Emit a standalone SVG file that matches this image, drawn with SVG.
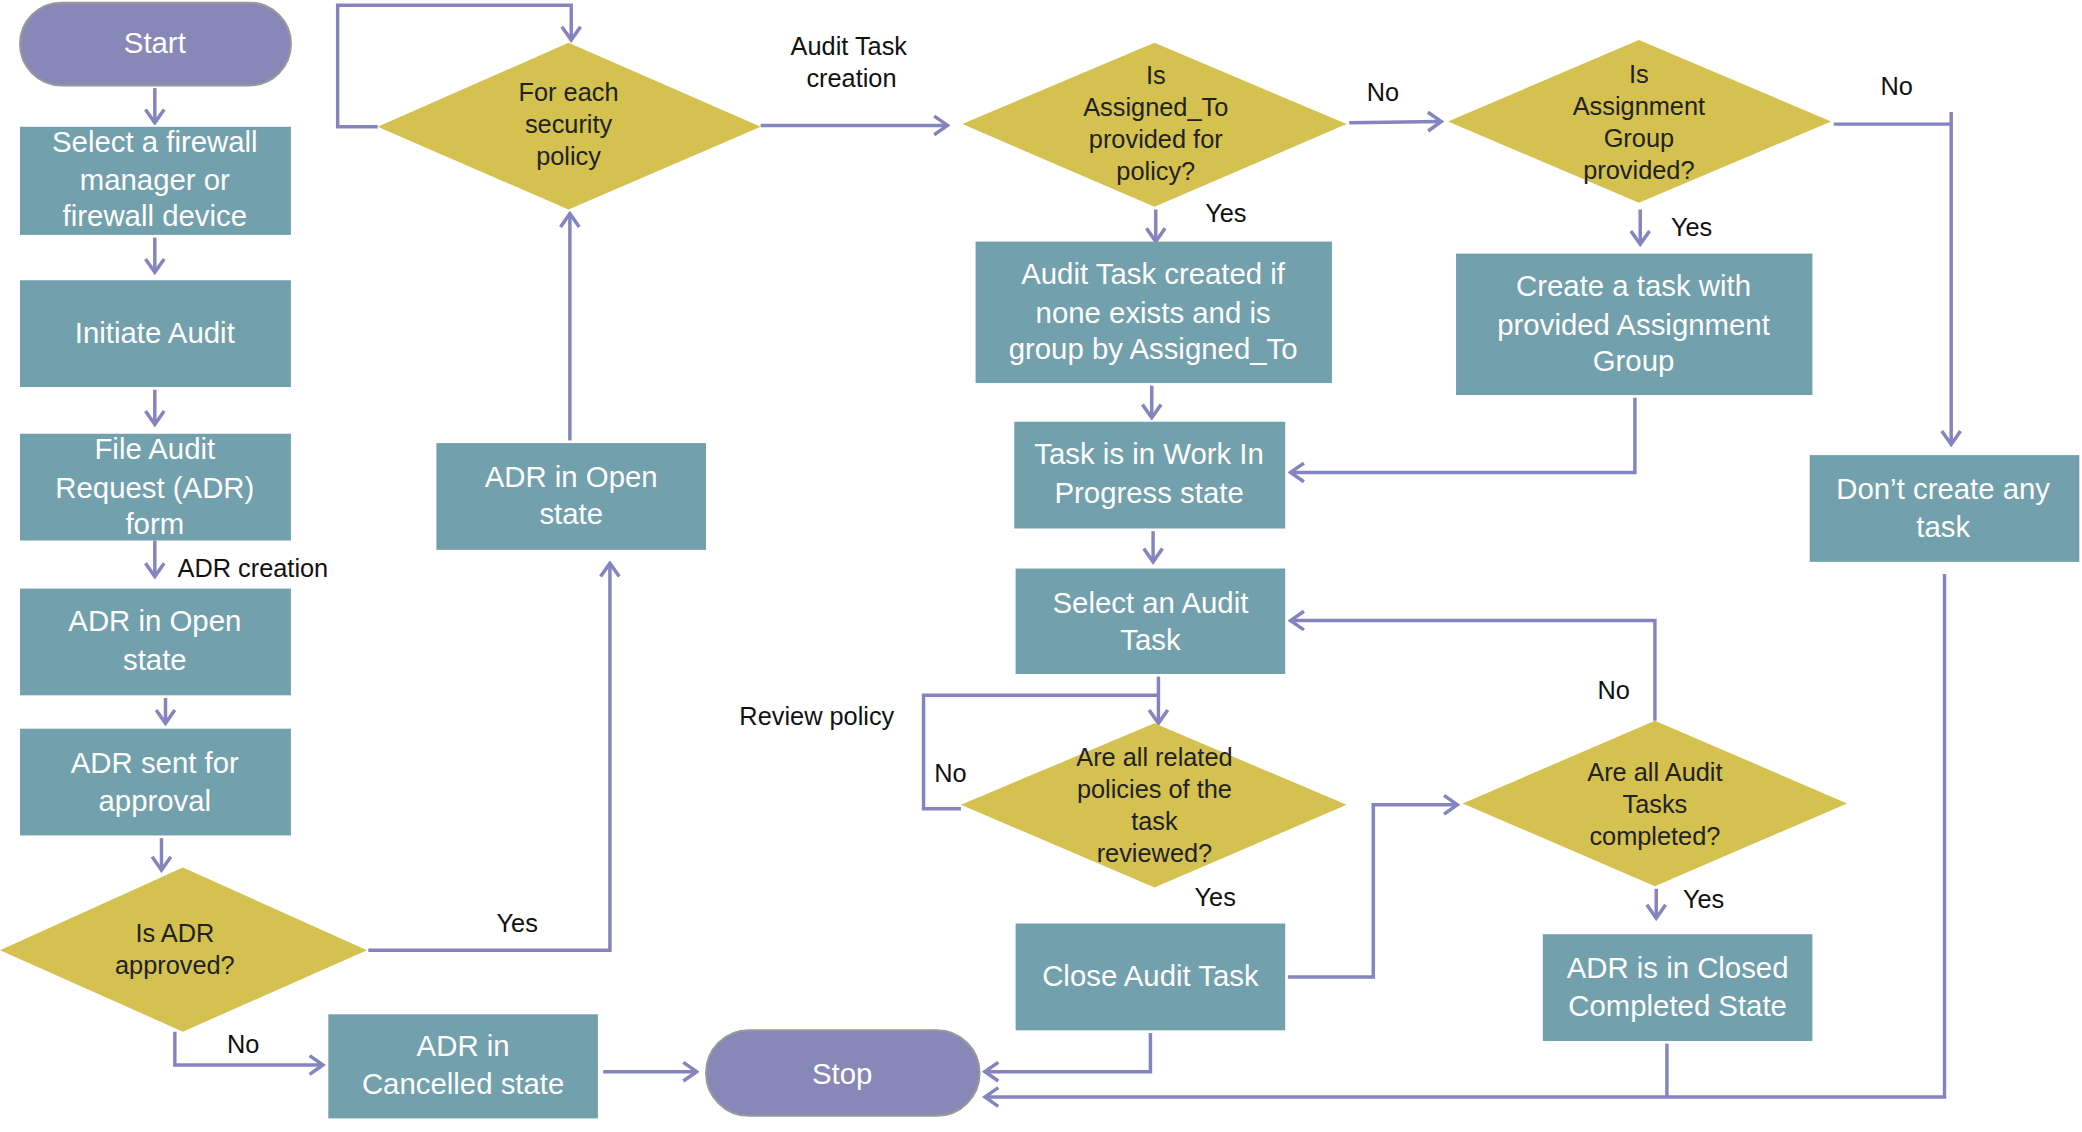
<svg xmlns="http://www.w3.org/2000/svg" width="2082" height="1132" viewBox="0 0 2082 1132">
<style>
.b{fill:#72a0ac}
.d{fill:#d4c14f}
.p{fill:#8787b8;stroke:#999;stroke-width:1.5}
.t{font-family:"Liberation Sans",Arial,sans-serif;font-size:22px;fill:#fff;text-anchor:middle}
.dt{font-family:"Liberation Sans",Arial,sans-serif;font-size:19px;fill:#222;text-anchor:middle}
.l{font-family:"Liberation Sans",Arial,sans-serif;font-size:19px;fill:#111}
.c path{fill:none;stroke:#8484bf;stroke-width:2.6}
</style>
<defs>
<marker id="a" markerUnits="userSpaceOnUse" viewBox="-12 -9 14 18" refX="0" refY="0" markerWidth="14" markerHeight="18" orient="auto">
<path d="M-10,-7 L0,0 L-10,7" fill="none" stroke="#8484bf" stroke-width="2.6"/>
</marker>
</defs>
<rect width="2082" height="1132" fill="#fff"/>
<g transform="scale(1.3346)">
<g class="c">
<path d="M116,66V92" marker-end="url(#a)"/>
<path d="M116,178V204" marker-end="url(#a)"/>
<path d="M116,292V318" marker-end="url(#a)"/>
<path d="M116,405V432" marker-end="url(#a)"/>
<path d="M124,523V542" marker-end="url(#a)"/>
<path d="M121,628V652" marker-end="url(#a)"/>
<path d="M131,773V798H242" marker-end="url(#a)"/>
<path d="M276,712H457V422" marker-end="url(#a)"/>
<path d="M427,330V160" marker-end="url(#a)"/>
<path d="M283,95H253V4H428V30" marker-end="url(#a)"/>
<path d="M570,94H710" marker-end="url(#a)"/>
<path d="M1011,92L1080,91" marker-end="url(#a)"/>
<path d="M866,157V181" marker-end="url(#a)"/>
<path d="M1229,157V183" marker-end="url(#a)"/>
<path d="M1374,93H1462"/>
<path d="M1462,84V333" marker-end="url(#a)"/>
<path d="M863,289V313" marker-end="url(#a)"/>
<path d="M1225,298V354H967" marker-end="url(#a)"/>
<path d="M864,398V421" marker-end="url(#a)"/>
<path d="M868,507V542" marker-end="url(#a)"/>
<path d="M720,606H692V521H868"/>
<path d="M965,732H1029V603H1092" marker-end="url(#a)"/>
<path d="M1240,540V465H967" marker-end="url(#a)"/>
<path d="M1241,666V688" marker-end="url(#a)"/>
<path d="M862,774V803H738" marker-end="url(#a)"/>
<path d="M1249,782V822"/>
<path d="M1457,430V822H738" marker-end="url(#a)"/>
<path d="M452,803H522" marker-end="url(#a)"/>
</g>
<g id="start"><rect class="p" x="15" y="2" width="203" height="62" rx="31"/><text class="t" x="116" y="40">Start</text></g>
<g id="select"><rect class="b" x="15" y="95" width="203" height="81"/><text class="t" x="116" y="114">Select a firewall</text><text class="t" x="116" y="142">manager or</text><text class="t" x="116" y="169">firewall device</text></g>
<g id="initiate"><rect class="b" x="15" y="210" width="203" height="80"/><text class="t" x="116" y="257">Initiate Audit</text></g>
<g id="file"><rect class="b" x="15" y="325" width="203" height="80"/><text class="t" x="116" y="344">File Audit</text><text class="t" x="116" y="373">Request (ADR)</text><text class="t" x="116" y="400">form</text></g>
<g id="open1"><rect class="b" x="15" y="441" width="203" height="80"/><text class="t" x="116" y="473">ADR in Open</text><text class="t" x="116" y="502">state</text></g>
<g id="sent"><rect class="b" x="15" y="546" width="203" height="80"/><text class="t" x="116" y="579">ADR sent for</text><text class="t" x="116" y="608">approval</text></g>
<g id="approved"><polygon class="d" points="0,712 137,650 275,712 137,773"/><text class="dt" x="131" y="706">Is ADR</text><text class="dt" x="131" y="730">approved?</text></g>
<g id="cancelled"><rect class="b" x="246" y="760" width="202" height="78"/><text class="t" x="347" y="791">ADR in</text><text class="t" x="347" y="820">Cancelled state</text></g>
<g id="stop"><rect class="p" x="529" y="772" width="205" height="64" rx="32"/><text class="t" x="631" y="812">Stop</text></g>
<g id="open2"><rect class="b" x="327" y="332" width="202" height="80"/><text class="t" x="428" y="365">ADR in Open</text><text class="t" x="428" y="393">state</text></g>
<g id="foreach"><polygon class="d" points="283,95 426,32 570,95 426,157"/><text class="dt" x="426" y="76">For each</text><text class="dt" x="426" y="100">security</text><text class="dt" x="426" y="124">policy</text></g>
<g id="assignedto"><polygon class="d" points="721,93 865,32 1009,93 865,155"/><text class="dt" x="866" y="63">Is</text><text class="dt" x="866" y="87">Assigned_To</text><text class="dt" x="866" y="111">provided for</text><text class="dt" x="866" y="135">policy?</text></g>
<g id="assigngroup"><polygon class="d" points="1085,91 1228,30 1372,91 1228,152"/><text class="dt" x="1228" y="62">Is</text><text class="dt" x="1228" y="86">Assignment</text><text class="dt" x="1228" y="110">Group</text><text class="dt" x="1228" y="134">provided?</text></g>
<g id="created"><rect class="b" x="731" y="181" width="267" height="106"/><text class="t" x="864" y="213">Audit Task created if</text><text class="t" x="864" y="242">none exists and is</text><text class="t" x="864" y="269">group by Assigned_To</text></g>
<g id="createtask"><rect class="b" x="1091" y="190" width="267" height="106"/><text class="t" x="1224" y="222">Create a task with</text><text class="t" x="1224" y="251">provided Assignment</text><text class="t" x="1224" y="278">Group</text></g>
<g id="wip"><rect class="b" x="760" y="316" width="203" height="80"/><text class="t" x="861" y="348">Task is in Work In</text><text class="t" x="861" y="377">Progress state</text></g>
<g id="dont"><rect class="b" x="1356" y="341" width="202" height="80"/><text class="t" x="1456" y="374">Don’t create any</text><text class="t" x="1456" y="402">task</text></g>
<g id="selecttask"><rect class="b" x="761" y="426" width="202" height="79"/><text class="t" x="862" y="459">Select an Audit</text><text class="t" x="862" y="487">Task</text></g>
<g id="reviewed"><polygon class="d" points="720,603 865,542 1009,603 865,665"/><text class="dt" x="865" y="574">Are all related</text><text class="dt" x="865" y="598">policies of the</text><text class="dt" x="865" y="622">task</text><text class="dt" x="865" y="646">reviewed?</text></g>
<g id="allcompleted"><polygon class="d" points="1096,602 1240,540 1384,602 1240,664"/><text class="dt" x="1240" y="585">Are all Audit</text><text class="dt" x="1240" y="609">Tasks</text><text class="dt" x="1240" y="633">completed?</text></g>
<g id="close"><rect class="b" x="761" y="692" width="202" height="80"/><text class="t" x="862" y="739">Close Audit Task</text></g>
<g id="closed"><rect class="b" x="1156" y="700" width="202" height="80"/><text class="t" x="1257" y="733">ADR is in Closed</text><text class="t" x="1257" y="761">Completed State</text></g>
<g id="labels">
<text class="l" x="133" y="432">ADR creation</text>
<text class="l" x="170" y="789">No</text>
<text class="l" x="372" y="698">Yes</text>
<text class="l" x="636" y="41" text-anchor="middle">Audit Task</text>
<text class="l" x="638" y="65" text-anchor="middle">creation</text>
<text class="l" x="1024" y="76">No</text>
<text class="l" x="903" y="166">Yes</text>
<text class="l" x="1252" y="177">Yes</text>
<text class="l" x="1409" y="71">No</text>
<text class="l" x="554" y="543">Review policy</text>
<text class="l" x="700" y="586">No</text>
<text class="l" x="895" y="679">Yes</text>
<text class="l" x="1197" y="524">No</text>
<text class="l" x="1261" y="680">Yes</text>
</g>
</g>
</svg>
